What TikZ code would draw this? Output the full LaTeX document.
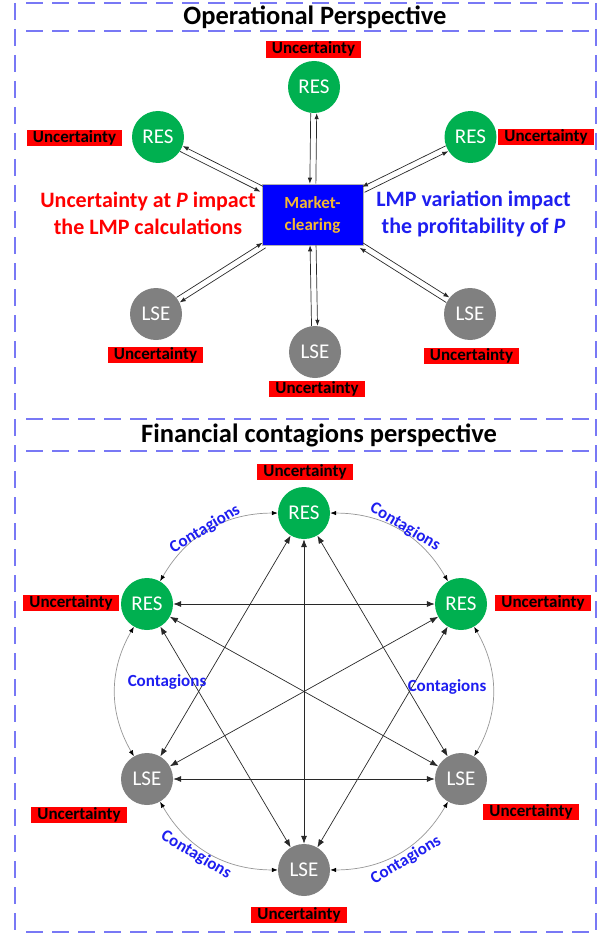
\documentclass[tikz,border=0pt]{standalone}
\usepackage{fontspec}
\setmainfont{Carlito}
\usetikzlibrary{arrows.meta,calc}
\definecolor{frameblue}{RGB}{120,120,245}
\definecolor{resgreen}{RGB}{0,176,80}
\definecolor{lsegray}{RGB}{128,128,128}
\definecolor{mcblue}{RGB}{0,0,255}
\definecolor{mcgold}{RGB}{245,185,50}
\definecolor{txtred}{RGB}{255,0,0}
\definecolor{txtblue}{RGB}{30,30,240}
\definecolor{arcgray}{RGB}{150,150,150}
\definecolor{linegray}{RGB}{40,40,40}
\begin{document}
\begin{tikzpicture}[x=1pt,y=-1pt,
  frame/.style={draw=frameblue, line width=1.2pt, dash pattern=on 17pt off 9pt},
  ttl/.style={font=\bfseries\fontsize{26.5}{30}\selectfont, inner sep=0pt},
  res/.style={circle, fill=resgreen, minimum size=52pt, inner sep=0pt, text=white, font=\fontsize{21}{24}\selectfont},
  lse/.style={circle, fill=lsegray, minimum size=52pt, inner sep=0pt, text=white, font=\fontsize{21}{24}\selectfont},
  unc/.style={fill=red, font=\bfseries\fontsize{17}{20}\selectfont, inner xsep=6pt, inner ysep=0pt, text height=12.5pt, text depth=4pt},
  mcbox/.style={rectangle, fill=mcblue, draw=gray!60, line width=0.6pt, minimum width=101pt, minimum height=61pt, inner sep=0pt, text=mcgold, align=center, font=\bfseries\fontsize{17}{22}\selectfont},
  redtxt/.style={text=txtred, align=center, inner sep=0pt, font=\bfseries\fontsize{22}{27}\selectfont},
  bluetxt/.style={text=txtblue, align=center, inner sep=0pt, font=\bfseries\fontsize{22}{27}\selectfont},
  ctg/.style={text=txtblue, inner sep=0pt, font=\bfseries\fontsize{17}{20}\selectfont},
  arr/.style={draw=linegray, line width=0.7pt, -{Latex[length=6pt,width=4.5pt]}},
  star/.style={draw=linegray, line width=0.7pt, {Latex[length=8pt,width=6pt]}-{Latex[length=8pt,width=6pt]}},
  arc/.style={draw=arcgray, line width=0.7pt, {Latex[length=6pt,width=4.5pt,fill=black,color=black]}-{Latex[length=6pt,width=4.5pt,fill=black,color=black]}}
]
\useasboundingbox (0,0) rectangle (600,936);
% frame
\draw[frame] (15,3) -- (15,933);
\draw[frame] (596,3) -- (596,933);
\foreach \yy in {3,31,419,451,932} \draw[frame] (26,\yy) -- (596,\yy);

% titles
\node[ttl] (optitle) at (315,17) {Operational Perspective};
\node[ttl] (fintitle) at (319,435) {Financial contagions perspective};

% ---------- operational perspective ----------
\node[res] (rT) at (314,87) {RES};
\node[unc] (uT) at (313.5,49.5) {Uncertainty};
\node[res] (rL) at (158,137) {RES};
\node[unc] (uL) at (74.5,138) {Uncertainty};
\node[res] (rR) at (470.5,137) {RES};
\node[unc] (uR) at (546,137) {Uncertainty};
\node[mcbox] (mc) at (312.5,214.5) {Market-\\clearing};
\node[redtxt] (txtL) at (148,213.5) {Uncertainty at \textit{P} impact\\the LMP calculations};
\node[bluetxt] (txtR) at (473.5,213.5) {LMP variation impact\\the profitability of \textit{P}};
\node[lse] (lL) at (156,314) {LSE};
\node[unc] (uLL) at (155.5,355) {Uncertainty};
\node[lse] (lM) at (315,352) {LSE};
\node[unc] (uLM) at (317,389) {Uncertainty};
\node[lse] (lR) at (470,314) {LSE};
\node[unc] (uLR) at (471.5,356) {Uncertainty};

\draw[arr, transform canvas={shift={(-3,0)}}] (rT) -- (mc);
\draw[arr, transform canvas={shift={(3,0)}}] (mc) -- (rT);
\draw[arr, transform canvas={shift={(1.3,-2.7)}}] (mc) -- (rL);
\draw[arr, transform canvas={shift={(-1.3,2.7)}}] (rL) -- (mc);
\draw[arr, transform canvas={shift={(-1.3,-2.7)}}] (rR) -- (mc);
\draw[arr, transform canvas={shift={(1.3,2.7)}}] (mc) -- (rR);
\draw[arr, transform canvas={shift={(-1.6,-2.5)}}] (lL) -- (mc);
\draw[arr, transform canvas={shift={(1.6,2.5)}}] (mc) -- (lL);
\draw[arr, transform canvas={shift={(1.6,-2.5)}}] (mc) -- (lR);
\draw[arr, transform canvas={shift={(-1.6,2.5)}}] (lR) -- (mc);
\draw[arr, transform canvas={shift={(-3,0)}}] (lM) -- (mc);
\draw[arr, transform canvas={shift={(3,0)}}] (mc) -- (lM);

% ---------- financial contagions perspective ----------
\node[unc] (ubT) at (305,472) {Uncertainty};
\node[res] (bT) at (304,513) {RES};
\node[res] (bL1) at (147,604) {RES};
\node[unc] (ubL1) at (71,603) {Uncertainty};
\node[res] (bR1) at (461,604) {RES};
\node[unc] (ubR1) at (543,603) {Uncertainty};
\node[lse] (bL2) at (147,779) {LSE};
\node[unc] (ubL2) at (79,815) {Uncertainty};
\node[lse] (bR2) at (461,779) {LSE};
\node[unc] (ubR2) at (531,812) {Uncertainty};
\node[lse] (bB) at (304,870) {LSE};
\node[unc] (ubB) at (299,915) {Uncertainty};

\foreach \a/\b in {bT/bL2, bT/bR2, bT/bB, bL1/bR1, bL1/bR2, bL1/bB, bR1/bL2, bR1/bB, bL2/bR2}
  \draw[star] (\a) -- (\b);

\draw[arc] (bT) to[bend right=30] (bL1);
\draw[arc] (bL1) to[bend right=30] (bL2);
\draw[arc] (bL2) to[bend right=30] (bB);
\draw[arc] (bB) to[bend right=30] (bR2);
\draw[arc] (bR2) to[bend right=30] (bR1);
\draw[arc] (bR1) to[bend right=30] (bT);

\node[ctg, rotate=31] (c1) at (205,529) {Contagions};
\node[ctg, rotate=-31] (c2) at (405,527) {Contagions};
\node[ctg] (c3) at (167,682) {Contagions};
\node[ctg] (c4) at (447,687) {Contagions};
\node[ctg, rotate=-31] (c5) at (196,855) {Contagions};
\node[ctg, rotate=31] (c6) at (406,860) {Contagions};
\end{tikzpicture}
\end{document}
